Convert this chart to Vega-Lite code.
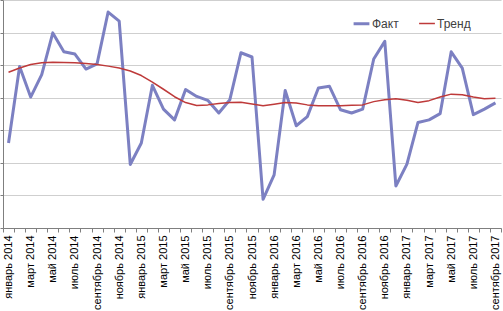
{
  "$schema": "https://vega.github.io/schema/vega-lite/v6.json",
  "width": 498,
  "height": 228,
  "autosize": {"type": "none"},
  "padding": {"left": 3, "top": 0, "right": 2, "bottom": 83},
  "background": "white",
  "config": {"view": {"stroke": null}},
  "data": {"values": [
    {"d":"2014-01","Факт":2.61,"Тренд":4.78},
    {"d":"2014-02","Факт":4.96,"Тренд":4.91},
    {"d":"2014-03","Факт":4.02,"Тренд":5.02},
    {"d":"2014-04","Факт":4.71,"Тренд":5.07},
    {"d":"2014-05","Факт":5.99,"Тренд":5.09},
    {"d":"2014-06","Факт":5.41,"Тренд":5.08},
    {"d":"2014-07","Факт":5.34,"Тренд":5.07},
    {"d":"2014-08","Факт":4.88,"Тренд":5.05},
    {"d":"2014-09","Факт":5.04,"Тренд":5.02},
    {"d":"2014-10","Факт":6.63,"Тренд":4.97},
    {"d":"2014-11","Факт":6.35,"Тренд":4.91},
    {"d":"2014-12","Факт":1.95,"Тренд":4.82},
    {"d":"2015-01","Факт":2.61,"Тренд":4.68},
    {"d":"2015-02","Факт":4.38,"Тренд":4.48},
    {"d":"2015-03","Факт":3.65,"Тренд":4.26},
    {"d":"2015-04","Факт":3.32,"Тренд":4.03},
    {"d":"2015-05","Факт":4.25,"Тренд":3.85},
    {"d":"2015-06","Факт":4.04,"Тренд":3.76},
    {"d":"2015-07","Факт":3.92,"Тренд":3.78},
    {"d":"2015-08","Факт":3.53,"Тренд":3.82},
    {"d":"2015-09","Факт":3.94,"Тренд":3.85},
    {"d":"2015-10","Факт":5.38,"Тренд":3.86},
    {"d":"2015-11","Факт":5.25,"Тренд":3.81},
    {"d":"2015-12","Факт":0.88,"Тренд":3.75},
    {"d":"2016-01","Факт":1.63,"Тренд":3.80},
    {"d":"2016-02","Факт":4.22,"Тренд":3.85},
    {"d":"2016-03","Факт":3.14,"Тренд":3.84},
    {"d":"2016-04","Факт":3.42,"Тренд":3.78},
    {"d":"2016-05","Факт":4.30,"Тренд":3.75},
    {"d":"2016-06","Факт":4.35,"Тренд":3.75},
    {"d":"2016-07","Факт":3.63,"Тренд":3.75},
    {"d":"2016-08","Факт":3.53,"Тренд":3.77},
    {"d":"2016-09","Факт":3.65,"Тренд":3.78},
    {"d":"2016-10","Факт":5.19,"Тренд":3.88},
    {"d":"2016-11","Факт":5.73,"Тренд":3.94},
    {"d":"2016-12","Факт":1.29,"Тренд":3.97},
    {"d":"2017-01","Факт":1.96,"Тренд":3.92},
    {"d":"2017-02","Факт":3.24,"Тренд":3.85},
    {"d":"2017-03","Факт":3.32,"Тренд":3.91},
    {"d":"2017-04","Факт":3.51,"Тренд":4.02},
    {"d":"2017-05","Факт":5.41,"Тренд":4.11},
    {"d":"2017-06","Факт":4.91,"Тренд":4.09},
    {"d":"2017-07","Факт":3.48,"Тренд":4.02},
    {"d":"2017-08","Факт":3.65,"Тренд":3.97},
    {"d":"2017-09","Факт":3.84,"Тренд":3.98}
  ]},
  "transform": [{"fold": ["Факт", "Тренд"], "as": ["s", "v"]}],
  "mark": {"type": "line", "strokeJoin": "round"},
  "encoding": {
    "x": {
      "field": "d", "type": "ordinal", "bandPosition": 0.5,
      "scale": {"type": "band", "paddingInner": 0, "paddingOuter": 0},
      "axis": {
        "title": null, "tickBand": "extent", "labelAngle": -90, "labelAlign": "right", "labelBaseline": "middle",
        "labelOverlap": false, "labelPadding": 3, "tickSize": 4, "tickColor": "#7f7f7f", "domainColor": "#7f7f7f",
        "labelFont": "Liberation Sans", "labelFontSize": 11, "labelColor": "#000000", "grid": false,
        "labelExpr": "toNumber(substring(datum.value,5,7)) % 2 == 1 ? ['январь','февраль','март','апрель','май','июнь','июль','август','сентябрь','октябрь','ноябрь','декабрь'][toNumber(substring(datum.value,5,7))-1] + ' ' + substring(datum.value,0,4) : ''"
      }
    },
    "y": {
      "field": "v", "type": "quantitative",
      "scale": {"domain": [0, 7], "nice": false, "zero": true},
      "axis": {"title": null, "labels": false, "tickCount": 7, "tickSize": 3, "tickColor": "#7f7f7f", "domainColor": "#7f7f7f", "gridColor": "#cfcfcf", "gridWidth": 1}
    },
    "color": {
      "field": "s", "type": "nominal",
      "scale": {"domain": ["Факт", "Тренд"], "range": ["#7c80c2", "#be3a3a"]},
      "legend": {"title": null, "orient": "none", "legendX": 349, "legendY": 14, "direction": "horizontal", "symbolType": "stroke", "symbolSize": 250, "labelOffset": 1, "labelFont": "Liberation Sans", "labelFontSize": 12, "labelColor": "#404040", "columnPadding": 17, "symbolStrokeWidth": 2}
    },
    "strokeWidth": {
      "field": "s", "type": "nominal",
      "scale": {"domain": ["Факт", "Тренд"], "range": [3, 1.5]},
      "legend": null
    }
  }
}
